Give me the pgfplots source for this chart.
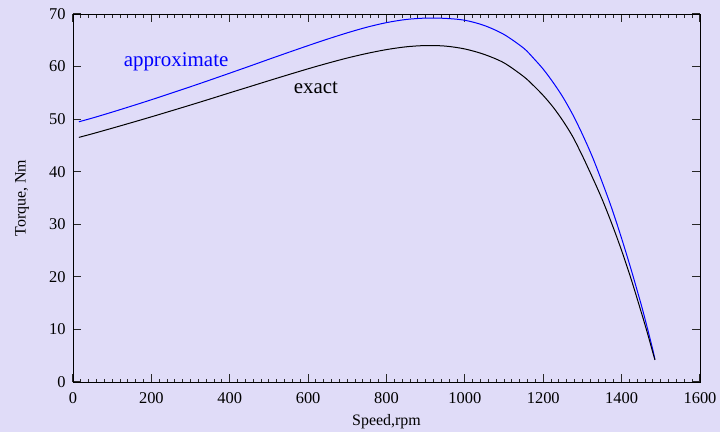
\documentclass[border=0pt]{standalone}
\usepackage{pgfplots}
\pgfplotsset{compat=1.18}
\usepackage{fontspec}
\setmainfont{Liberation Serif}
\definecolor{bgc}{RGB}{224,220,248}
\definecolor{tickc}{RGB}{40,40,40}
\pgfplotstableread{
n T
15 49.50
50 50.22
100 51.34
150 52.50
200 53.69
250 54.92
300 56.17
350 57.45
400 58.75
450 60.06
500 61.39
550 62.70
600 63.99
650 65.24
700 66.42
750 67.49
800 68.36
850 68.96
900 69.22
950 69.17
1000 68.81
1050 67.80
1100 66.10
1150 63.50
1175 61.60
1200 59.50
1225 57.00
1250 54.20
1275 50.90
1300 47.10
1325 42.90
1350 38.10
1375 33.00
1400 27.30
1425 21.20
1450 14.70
1460 11.90
1470 9.00
1480 6.00
1485 4.30
}\approxdata
\pgfplotstableread{
n T
15 46.53
50 47.23
100 48.28
150 49.35
200 50.44
250 51.56
300 52.69
350 53.84
400 55.01
450 56.16
500 57.32
550 58.46
600 59.58
650 60.64
700 61.63
750 62.50
800 63.23
850 63.76
900 64.00
950 63.90
1000 63.35
1050 62.30
1100 60.70
1150 58.10
1175 56.40
1200 54.50
1225 52.30
1250 49.70
1275 46.70
1300 43.00
1325 39.00
1350 34.80
1375 30.10
1400 25.00
1425 19.40
1450 13.30
1460 10.80
1470 8.20
1480 5.50
1485 4.20
}\exactdata
\begin{document}
\begin{tikzpicture}
\fill[bgc] (0,0) rectangle (720bp,432bp);
\begin{axis}[
  at={(73bp,50bp)}, anchor=south west,
  scale only axis, width=627bp, height=368bp,
  xmin=0, xmax=1600, ymin=0, ymax=70,
  xtick pos=both, ytick pos=both,
  xtick={0,200,...,1600}, ytick={0,10,...,70},
  minor x tick num=9,
  tick align=inside,
  major tick length=8bp, minor tick length=3.5bp,
  every tick/.style={tickc, line width=1.1bp},
  every minor tick/.style={tickc, line width=1bp},
  axis line style={black, line width=1bp},
  /pgf/number format/assume math mode=true,
  /pgf/number format/1000 sep={},
  tick label style={font=\fontsize{16.5}{18}\selectfont, black},
  yticklabel style={xshift=-4bp},
  xticklabel style={yshift=-7bp},
  label style={font=\fontsize{16}{18}\selectfont},
  xlabel={Speed,rpm},
  ylabel={Torque, Nm},
  xlabel style={at={(axis description cs:0.5,-0.109)}, anchor=center},
  ylabel style={at={(axis description cs:-0.0813,0.5)}, anchor=center},
]
\addplot[blue, line width=1bp, smooth, tension=0.5] table[x=n,y=T] {\approxdata};
\addplot[black, line width=1bp, smooth, tension=0.5] table[x=n,y=T] {\exactdata};
\node[blue, font=\fontsize{21}{24}\selectfont] at (axis cs:263,61.0) {approximate};
\node[black, font=\fontsize{21}{24}\selectfont] at (axis cs:620,56.0) {exact};
\end{axis}
\end{tikzpicture}
\end{document}
